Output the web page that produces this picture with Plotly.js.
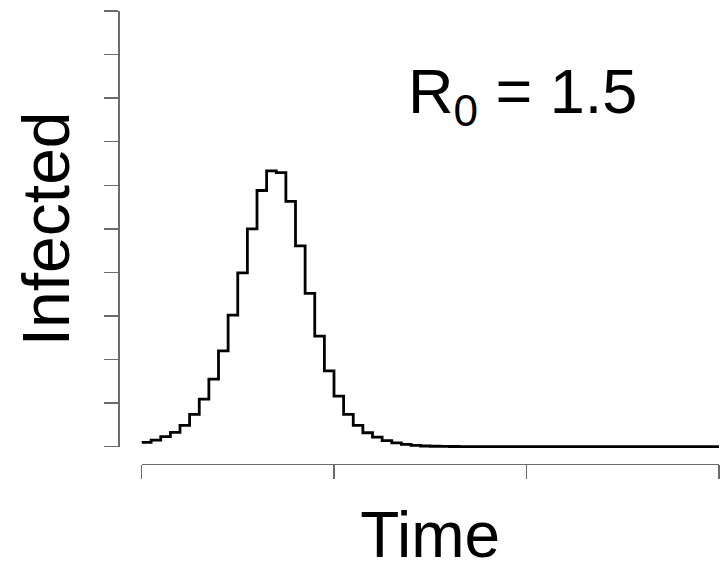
<!DOCTYPE html>
<html>
<head>
<meta charset="utf-8">
<script src="https://cdn.plot.ly/plotly-3.0.1.min.js"></script>
<style>html,body{margin:0;padding:0;background:#fff;}#chart{width:726px;height:571px;}</style>
</head>
<body>
<div id="chart"></div>
<script>
// Time points (start of each step)
const time = [0,5,10,15,20,25,30,35,40,45,50,55,60,65,70,75,80,85,90,95,
  100,105,110,115,120,125,130,135,140,145,150,155,160,165,170,175,180,185,190,195,
  200,205,210,215,220,225,230,235,240,245,250,255,260,265,270,275,280,285,290,295,300];
// Number infected (arbitrary units, axis 0..10)
const infected = [0.10,0.15,0.23,0.33,0.49,0.74,1.09,1.55,2.20,3.02,3.99,5.00,5.88,6.33,6.29,5.63,4.61,3.52,2.54,1.74,
  1.16,0.74,0.49,0.32,0.22,0.14,0.09,0.055,0.032,0.016,0.010,0.006,0.004,0.003,0.002,0.001,0.001,0,0,0,
  0,0,0,0,0,0,0,0,0,0,0,0,0,0,0,0,0,0,0,0,0];
const xTicks = [0,100,200,300];
const yTicks = [0,1,2,3,4,5,6,7,8,9,10];
const labelText = 'R<sub>0</sub> = 1.5';

const axisColor = '#6b6b6b';
const font = 'Liberation Sans, Arial, Helvetica, sans-serif';

const traces = [
  {x: time, y: infected, type: 'scatter', mode: 'lines', line: {shape: 'hv', color: '#000', width: 2.8},
   xaxis: 'x', yaxis: 'y', showlegend: false, hoverinfo: 'skip'},
  {x: [], y: [], type: 'scatter', mode: 'lines', xaxis: 'x', yaxis: 'y2', showlegend: false, hoverinfo: 'skip'}
];

const layout = {
  width: 726, height: 571,
  margin: {l: 110, r: 6, t: 6, b: 100},
  paper_bgcolor: '#fff', plot_bgcolor: 'rgba(0,0,0,0)',
  font: {family: font, color: '#000'},
  showlegend: false,
  xaxis: {
    domain: [0.05164, 0.99836], range: [0, 300], anchor: 'free', position: 0.016129,
    showgrid: false, zeroline: false, showline: true, linecolor: axisColor, linewidth: 1.5,
    ticks: 'outside', ticklen: 14, tickwidth: 1.5, tickcolor: axisColor,
    tickmode: 'array', tickvals: xTicks, showticklabels: false,
    title: {text: 'Time', font: {size: 64, family: font, color: '#000'}, standoff: 37},
    automargin: false, fixedrange: true
  },
  yaxis: {
    domain: [0.02415, 0.989247], range: [-0.3, 10], visible: false, anchor: 'x', fixedrange: true
  },
  yaxis2: {
    domain: [0.052258, 0.989247], range: [0, 10], anchor: 'free', position: 0.013934, side: 'left',
    showgrid: false, zeroline: false, showline: true, linecolor: axisColor, linewidth: 1.5,
    ticks: 'outside', ticklen: 14, tickwidth: 1.5, tickcolor: axisColor,
    tickmode: 'array', tickvals: yTicks, showticklabels: false,
    title: {text: 'Infected', font: {size: 66, family: font, color: '#000'}, standoff: 12},
    automargin: false, fixedrange: true
  },
  annotations: [{
    text: labelText, xref: 'x', yref: 'y', x: 197.7, y: 8.06, xanchor: 'center', yanchor: 'middle',
    showarrow: false, font: {size: 63, family: font, color: '#000'}
  }]
};

Plotly.newPlot('chart', traces, layout, {staticPlot: true, displayModeBar: false});
</script>
</body>
</html>
